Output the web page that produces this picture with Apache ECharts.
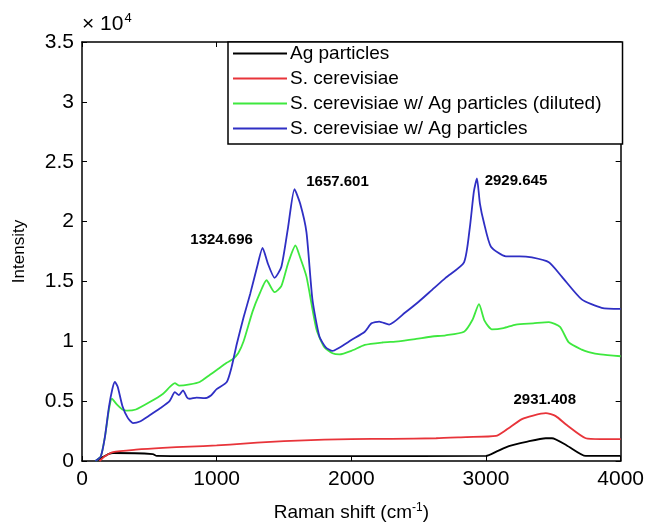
<!DOCTYPE html>
<html>
<head>
<meta charset="utf-8">
<script src="https://cdn.jsdelivr.net/npm/echarts@6/dist/echarts.min.js"></script>
<style>
  html, body { margin: 0; padding: 0; background: #fff; }
  #chart { width: 647px; height: 527px; }
</style>
</head>
<body>
<div id="chart"></div>
<script>
// Raman spectra, intensity in counts (axis shows x10^4)
const seriesNames = ['Ag particles', 'S. cerevisiae', 'S. cerevisiae w/ Ag particles (diluted)', 'S. cerevisiae w/ Ag particles'];
const seriesColors = ['#000000', '#e8343a', '#3ee83e', '#2f2fc4'];

const agX = [100, 150, 200, 230, 526, 555, 1000, 2000, 3000, 3080, 3170, 3300, 3444, 3490, 3600, 3741, 3850, 4000];
const agY = [0, 300, 600, 670, 580, 420, 400, 400, 420, 800, 1250, 1600, 1900, 1900, 1300, 420, 420, 420];

const scX = [130, 170, 230, 400, 600, 800, 1000, 1200, 1400, 1600, 1800, 2000, 2300, 2630, 2850, 3074, 3150, 3267, 3350, 3444, 3518, 3600, 3741, 3850, 4000];
const scY = [0, 400, 750, 950, 1100, 1200, 1300, 1450, 1600, 1700, 1780, 1830, 1850, 1900, 2000, 2100, 2600, 3500, 3800, 4000, 3750, 3000, 1900, 1830, 1830];

const dilX = [100, 140, 170, 200, 222, 260, 300, 333, 400, 500, 600, 690, 720, 800, 874, 950, 1000, 1074, 1119, 1160, 1200, 1267, 1320, 1370, 1430, 1480, 1530, 1585, 1620, 1667, 1741, 1800, 1860, 1911, 2000, 2100, 2230, 2350, 2481, 2600, 2700, 2837, 2900, 2948, 2990, 3044, 3130, 3222, 3350, 3467, 3550, 3615, 3711, 3763, 3850, 4000];
const dilY = [0, 400, 2000, 4300, 5200, 4700, 4300, 4200, 4300, 4900, 5600, 6500, 6300, 6400, 6600, 7200, 7600, 8200, 8500, 9000, 10000, 12500, 14000, 15100, 14100, 14600, 16500, 18000, 17000, 15400, 11000, 9500, 9000, 8900, 9200, 9700, 9900, 10000, 10200, 10400, 10500, 10800, 11800, 13100, 11700, 11000, 11100, 11400, 11500, 11600, 11200, 9900, 9300, 9100, 8900, 8750];

const agScX = [100, 140, 170, 200, 225, 244, 265, 300, 340, 378, 430, 500, 580, 650, 690, 720, 750, 780, 800, 850, 910, 960, 1000, 1075, 1110, 1150, 1200, 1250, 1300, 1341, 1380, 1430, 1480, 1530, 1578, 1620, 1667, 1711, 1763, 1810, 1860, 1900, 2000, 2100, 2150, 2207, 2281, 2400, 2500, 2600, 2700, 2837, 2880, 2910, 2933, 2955, 2985, 3037, 3148, 3250, 3341, 3467, 3563, 3711, 3859, 4000];
const agScY = [0, 400, 2000, 4500, 6000, 6600, 6200, 4600, 3600, 3170, 3300, 3800, 4400, 5000, 5750, 5500, 5900, 5300, 5200, 5300, 5250, 5500, 6000, 6600, 7800, 9800, 12000, 14000, 16200, 17800, 16500, 15300, 16200, 19500, 22700, 21500, 19100, 13500, 10400, 9500, 9200, 9400, 10100, 10800, 11500, 11650, 11400, 12400, 13300, 14300, 15300, 16600, 19500, 22500, 23600, 21500, 19900, 17900, 17100, 17100, 17000, 16600, 15400, 13500, 12800, 12700];

// peak annotations: [series index, x, y, label]
const peakLabels = [
  [3, 1341, 17800, '1324.696'],
  [3, 1578, 22700, '1657.601'],
  [3, 2933, 23600, '2929.645'],
  [1, 3444, 4000, '2931.408']
];
const labelOffsets = [[-41, -8], [43, -7], [39, 2], [-1, -13]];

function pairs(xs, ys) {
  return xs.map((x, i) => [x, ys[i]]);
}

const allData = [pairs(agX, agY), pairs(scX, scY), pairs(dilX, dilY), pairs(agScX, agScY)];

const chart = echarts.init(document.getElementById('chart'));
const font = 'Liberation Sans, Arial, sans-serif';

const series = seriesNames.map((name, i) => {
  const marks = peakLabels
    .map((p, k) => ({ p, k }))
    .filter(o => o.p[0] === i)
    .map(o => ({
      coord: [o.p[1], o.p[2]],
      symbolSize: 0,
      label: {
        show: true,
        formatter: o.p[3],
        offset: labelOffsets[o.k],
        color: '#000',
        fontSize: 15,
        fontWeight: 'bold',
        fontFamily: font
      }
    }));
  return {
    name: name,
    type: 'line',
    data: allData[i],
    showSymbol: false,
    smooth: 0.2,
    animation: false,
    lineStyle: { color: seriesColors[i], width: 1.8 },
    itemStyle: { color: seriesColors[i] },
    markPoint: marks.length ? { symbol: 'circle', data: marks, animation: false } : undefined
  };
});

const tickStyle = { inside: true, length: 5, lineStyle: { color: '#000' } };
const lineStyle = { show: true, onZero: false, lineStyle: { color: '#000', width: 1.5 } };

chart.setOption({
  backgroundColor: '#fff',
  animation: false,
  grid: { left: 82, right: 25, top: 42, bottom: 65 },
  legend: {
    orient: 'vertical',
    left: 228,
    top: 42,
    data: seriesNames,
    icon: 'rect',
    itemWidth: 54,
    itemHeight: 2,
    itemGap: 6,
    padding: [2, 21, 6, 5],
    borderColor: '#000',
    borderWidth: 1.5,
    backgroundColor: '#fff',
    textStyle: { fontSize: 19, fontFamily: font, color: '#000', padding: [0, 0, 0, -2] }
  },
  title: {
    text: '× 10{sup|4}',
    left: 82,
    top: 12,
    padding: 0,
    textStyle: {
      fontSize: 21, fontWeight: 'normal', fontFamily: font, color: '#000',
      rich: { sup: { fontSize: 13, verticalAlign: 'top', padding: [0, 0, 12, 1], fontFamily: font, color: '#000' } }
    }
  },
  xAxis: [{
    type: 'value',
    min: 0, max: 4000, interval: 1000,
    name: 'Raman shift (cm{sup|-1})',
    nameLocation: 'middle',
    nameGap: 41,
    nameTextStyle: {
      fontSize: 19, fontFamily: font, color: '#000',
      rich: { sup: { fontSize: 12, verticalAlign: 'top', padding: [0, 0, 9, 0], color: '#000' } }
    },
    axisLine: lineStyle,
    axisTick: tickStyle,
    axisLabel: { fontSize: 21, fontFamily: font, color: '#000', margin: 8, formatter: v => String(v) },
    splitLine: { show: false }
  }, {
    type: 'value', position: 'top',
    min: 0, max: 4000, interval: 1000,
    axisLine: lineStyle,
    axisTick: tickStyle,
    axisLabel: { show: false },
    splitLine: { show: false }
  }],
  yAxis: [{
    type: 'value',
    min: 0, max: 35000, interval: 5000,
    name: 'Intensity',
    nameLocation: 'middle',
    nameGap: 54,
    nameRotate: 90,
    nameTextStyle: { fontSize: 17, fontFamily: font, color: '#000' },
    axisLine: lineStyle,
    axisTick: tickStyle,
    axisLabel: {
      fontSize: 21, fontFamily: font, color: '#000', margin: 8,
      formatter: v => String(v / 10000)
    },
    splitLine: { show: false }
  }, {
    type: 'value', position: 'right',
    min: 0, max: 35000, interval: 5000,
    axisLine: lineStyle,
    axisTick: tickStyle,
    axisLabel: { show: false },
    splitLine: { show: false }
  }],
  series: series
});
</script>
</body>
</html>
